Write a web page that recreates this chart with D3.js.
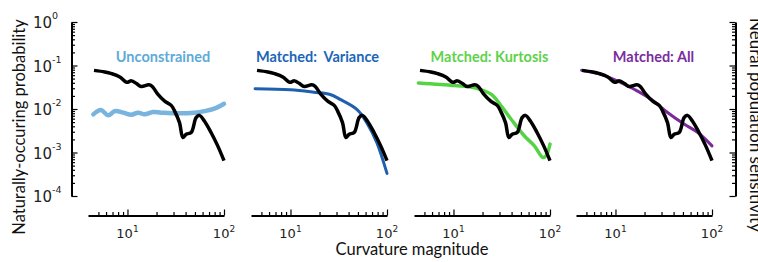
<!DOCTYPE html>
<html>
<head>
<meta charset="utf-8">
<script src="https://cdn.jsdelivr.net/npm/d3@7"></script>
<style>
	body { margin: 0; background: #fff; }
	svg { display: block; }
</style>
</head>
<body>
<script>
const width = 758;
const height = 262;

// natural image statistics (black curve, same in every panel)
const naturalX = [4.5, 5.83, 6.84, 8.33, 9.77, 11.0, 12.4, 13.9, 16.6, 18.0, 20.7, 24.3, 28.4, 30.8, 34.6, 37.5, 40.6, 45.7, 51.4, 55.6, 62.6, 73.4, 86.1, 100];
const naturalY = [0.0773, 0.0711, 0.065, 0.0546, 0.0411, 0.0443, 0.0384, 0.0328, 0.0359, 0.0333, 0.0216, 0.0151, 0.0121, 0.00895, 0.00486, 0.00221, 0.00263, 0.00288, 0.00633, 0.00714, 0.0053, 0.00288, 0.00142, 0.00065];

// model curves
const unconstrainedX = [4.43, 5.31, 6.32, 7.4, 9.03, 11.0, 12.9, 15.1, 18.4, 22.4, 33.4, 49.4, 62.6, 79.4, 100];
const unconstrainedY = [0.00753, 0.00944, 0.00714, 0.00895, 0.00824, 0.00741, 0.00824, 0.00753, 0.0085, 0.00824, 0.00794, 0.00824, 0.00895, 0.0102, 0.0132];
const varianceX = [4.3, 10, 17.4, 25.8, 32.7, 48.7, 61.7, 78.3, 100];
const varianceY = [0.0291, 0.0276, 0.0243, 0.0216, 0.0166, 0.0098, 0.00486, 0.0017, 0.00033];
const kurtosisX = [4.33, 10.3, 16.6, 24.7, 31.3, 39.6, 54.3, 68.9, 84.1, 91, 100];
const kurtosisY = [0.0398, 0.0346, 0.0306, 0.0216, 0.01164, 0.0058, 0.0024, 0.00142, 0.00077, 0.00084, 0.00156];
const allX = [4.46, 7.17, 10.7, 15.8, 23.5, 34.9, 51.8, 71.2, 100];
const allY = [0.0773, 0.0617, 0.0434, 0.028, 0.0166, 0.00823, 0.00445, 0.00288, 0.00142];

const titles = ["Unconstrained", "Matched:\u00a0 Variance", "Matched: Kurtosis", "Matched: All"];
const titleColors = ["#5eaad8", "#1b66b8", "#5fd24b", "#7a2d9e"];
const lineColors = ["#78b4de", "#1f5fae", "#55d344", "#7a2a9a"];
const lineWidths = [4.5, 3, 3.5, 3];
const modelX = [unconstrainedX, varianceX, kurtosisX, allX];
const modelY = [unconstrainedY, varianceY, kurtosisY, allY];

const xDomain = [3.9, 100];
const xTickValues = [5, 6, 7, 8, 9, 10, 20, 30, 40, 50, 60, 70, 80, 90, 100];
const xTickLabels = [[10, 1], [100, 2]];
const yDomain = [1e-4, 1];
const yTickLabels = [[1, "0"], [1e-1, "-1"], [1e-2, "-2"], [1e-3, "-3"], [1e-4, "-4"]];

// layout
const panelLeft = [88, 251, 414, 576];
const panelWidth = 136;
const titleShift = [7, -1.5, 7.5, 9.5];
const xAxisY = 215.5;
const yTop = 22, yBottom = 196;
const leftAxisX = 71.5, rightAxisX = 735.5;

const FONT = "Lato, 'Open Sans', sans-serif";
const TICK_FONT = "'DejaVu Sans', sans-serif";

const svg = d3.select("body")
	.append("svg")
	.attr("width", width)
	.attr("height", height);

const y = d3.scaleLog().domain(yDomain).range([yBottom, yTop]);

// all minor + major ticks for log y axis
const yTickValues = [];
for (let e = -4; e < 0; e++) {
	for (let m = 1; m < 10; m++) yTickValues.push(m * Math.pow(10, e));
}
yTickValues.push(1);

function isMajor(v) {
	const l = Math.log10(v);
	return Math.abs(l - Math.round(l)) < 1e-6;
}

function styleAxis(g, dir) {
	g.select(".domain").attr("stroke", "#000").attr("stroke-width", 2);
	g.selectAll(".tick line")
		.attr("stroke", "#000")
		.attr("stroke-width", 1.2)
		.each(function (d) {
			const len = isMajor(d) ? 6 : 3.5;
			if (dir === "x") d3.select(this).attr("y2", -len);
			else d3.select(this).attr("x2", dir === "left" ? len : -len);
		});
	g.selectAll(".tick text").remove();
}

// left y axis
svg.append("g")
	.attr("transform", `translate(${leftAxisX},0)`)
	.call(d3.axisRight(y).tickValues(yTickValues).tickSizeOuter(0))
	.call(g => styleAxis(g, "left"));

// right y axis (no labels)
svg.append("g")
	.attr("transform", `translate(${rightAxisX},0)`)
	.call(d3.axisLeft(y).tickValues(yTickValues).tickSizeOuter(0))
	.call(g => styleAxis(g, "right"));

// y tick labels 10^n
yTickLabels.forEach(function (t) {
	const txt = svg.append("text")
		.attr("x", 33)
		.attr("y", y(t[0]) + 6)
		.attr("font-family", TICK_FONT)
		.attr("font-size", 15)
		.attr("fill", "#222");
	txt.append("tspan").text("10");
	txt.append("tspan").attr("font-size", 9.5).attr("dy", -9).text(t[1]);
});

const line = d3.line()
	.curve(d3.curveCatmullRom.alpha(0.5));

panelLeft.forEach(function (left, i) {
	const x = d3.scaleLog().domain(xDomain).range([left, left + panelWidth]);

	svg.append("g")
		.attr("transform", `translate(0,${xAxisY})`)
		.call(d3.axisTop(x).tickValues(xTickValues).tickSizeOuter(0))
		.call(g => styleAxis(g, "x"));

	xTickLabels.forEach(function (t) {
		const txt = svg.append("text")
			.attr("x", x(t[0]))
			.attr("y", 238)
			.attr("text-anchor", "middle")
			.attr("font-family", TICK_FONT)
			.attr("font-size", 13)
			.attr("fill", "#222");
		txt.append("tspan").text("10");
		txt.append("tspan").attr("font-size", 9).attr("dy", -6).text(t[1]);
	});

	// model curve
	const pts = modelX[i].map((v, k) => [x(v), y(modelY[i][k])]);
	svg.append("path")
		.attr("d", line(pts))
		.attr("fill", "none")
		.attr("stroke", lineColors[i])
		.attr("stroke-width", lineWidths[i])
		.attr("stroke-linecap", "round");

	// natural statistics curve
	const nat = naturalX.map((v, k) => [x(v), y(naturalY[k])]);
	svg.append("path")
		.attr("d", line(nat))
		.attr("fill", "none")
		.attr("stroke", "#000")
		.attr("stroke-width", 3.5)
		.attr("stroke-linejoin", "round");

	svg.append("text")
		.attr("x", left + panelWidth / 2 + titleShift[i])
		.attr("y", 61.5)
		.attr("text-anchor", "middle")
		.attr("font-family", FONT)
		.attr("font-weight", "bold")
		.attr("font-size", 14.5)
		.attr("fill", titleColors[i])
		.text(titles[i]);
});

// axis titles
svg.append("text")
	.attr("transform", "translate(25,127) rotate(-90)")
	.attr("text-anchor", "middle")
	.attr("font-family", FONT)
	.attr("font-size", 16.5)
	.attr("fill", "#111")
	.text("Naturally-occuring probability");

svg.append("text")
	.attr("transform", "translate(750,125) rotate(90)")
	.attr("text-anchor", "middle")
	.attr("font-family", FONT)
	.attr("font-size", 17)
	.attr("fill", "#111")
	.text("Neural population sensitivity");

svg.append("text")
	.attr("x", 412)
	.attr("y", 255)
	.attr("text-anchor", "middle")
	.attr("font-family", FONT)
	.attr("font-size", 16.5)
	.attr("fill", "#111")
	.text("Curvature magnitude");
</script>
</body>
</html>
